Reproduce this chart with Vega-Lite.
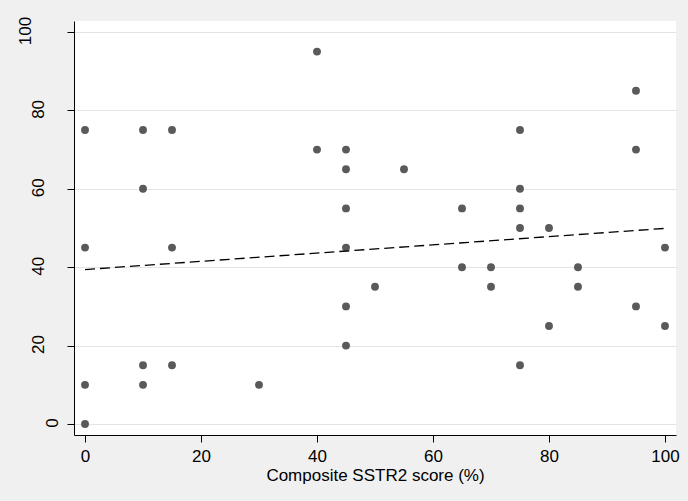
{
  "$schema": "https://vega.github.io/schema/vega-lite/v6.json",
  "width": 602,
  "height": 414,
  "autosize": "none",
  "padding": {"left": 74, "top": 21, "right": 12, "bottom": 66},
  "background": "#F0F0F0",
  "view": {"fill": "white", "stroke": null},
  "config": {
    "font": "Liberation Sans"
  },
  "datasets": {
    "points": [
      {"score": 0, "value": 75}, {"score": 0, "value": 45}, {"score": 0, "value": 10}, {"score": 0, "value": 0},
      {"score": 10, "value": 75}, {"score": 10, "value": 60}, {"score": 10, "value": 15}, {"score": 10, "value": 10},
      {"score": 15, "value": 75}, {"score": 15, "value": 45}, {"score": 15, "value": 15},
      {"score": 30, "value": 10},
      {"score": 40, "value": 95}, {"score": 40, "value": 70},
      {"score": 45, "value": 70}, {"score": 45, "value": 65}, {"score": 45, "value": 55}, {"score": 45, "value": 45}, {"score": 45, "value": 30}, {"score": 45, "value": 20},
      {"score": 50, "value": 35},
      {"score": 55, "value": 65},
      {"score": 65, "value": 55}, {"score": 65, "value": 40},
      {"score": 70, "value": 40}, {"score": 70, "value": 35},
      {"score": 75, "value": 75}, {"score": 75, "value": 60}, {"score": 75, "value": 55}, {"score": 75, "value": 50}, {"score": 75, "value": 15},
      {"score": 80, "value": 50}, {"score": 80, "value": 25},
      {"score": 85, "value": 40}, {"score": 85, "value": 35},
      {"score": 95, "value": 85}, {"score": 95, "value": 70}, {"score": 95, "value": 30},
      {"score": 100, "value": 45}, {"score": 100, "value": 25}
    ],
    "fit": [
      {"score": 0, "fitted": 39.4},
      {"score": 100, "fitted": 49.9}
    ],
    "ylabels": [
      {"tick": 0, "label": "0", "group": "short"},
      {"tick": 20, "label": "20", "group": "mid"},
      {"tick": 40, "label": "40", "group": "mid"},
      {"tick": 60, "label": "60", "group": "mid"},
      {"tick": 80, "label": "80", "group": "mid"},
      {"tick": 100, "label": "100", "group": "long"}
    ]
  },
  "layer": [
    {
      "data": {"name": "points"},
      "mark": {"type": "point", "filled": true, "shape": "circle", "size": 62, "color": "#5A5A5A", "opacity": 1},
      "encoding": {
        "x": {
          "field": "score", "type": "quantitative",
          "scale": {"domain": [-1.9, 101.9], "nice": false, "zero": false},
          "axis": {
            "title": "Composite SSTR2 score (%)",
            "values": [0, 20, 40, 60, 80, 100],
            "grid": false,
            "domainColor": "black", "domainWidth": 1, "tickColor": "black", "tickSize": 7, "tickWidth": 1,
            "labelFont": "Liberation Sans", "labelFontSize": 17, "labelColor": "black", "labelPadding": 6,
            "titleFont": "Liberation Sans", "titleFontSize": 17, "titleFontWeight": "normal", "titleColor": "black", "titlePadding": 3
          }
        },
        "y": {
          "field": "value", "type": "quantitative",
          "scale": {"domain": [-2.8, 102.8], "nice": false, "zero": false},
          "axis": {
            "title": null, "values": [0, 20, 40, 60, 80, 100], "grid": true, "gridColor": "#E4E4E4",
            "domainColor": "black", "domainWidth": 1, "tickColor": "black", "tickSize": 7, "tickWidth": 1,
            "labels": false
          }
        }
      }
    },
    {
      "data": {"name": "fit"},
      "mark": {"type": "line", "color": "black", "strokeWidth": 1.3, "strokeDash": [10, 5]},
      "encoding": {
        "x": {"field": "score", "type": "quantitative"},
        "y": {"field": "fitted", "type": "quantitative"}
      }
    },
    {
      "data": {"name": "ylabels"},
      "transform": [{"filter": "datum.group == 'short'"}],
      "mark": {"type": "text", "font": "Liberation Sans", "fontSize": 17, "color": "black", "angle": 270, "align": "center", "baseline": "bottom", "dx": 1, "dy": -12},
      "encoding": {
        "x": {"datum": -1.9, "type": "quantitative"},
        "y": {"field": "tick", "type": "quantitative"},
        "text": {"field": "label", "type": "nominal"}
      }
    },
    {
      "data": {"name": "ylabels"},
      "transform": [{"filter": "datum.group == 'mid'"}],
      "mark": {"type": "text", "font": "Liberation Sans", "fontSize": 17, "color": "black", "angle": 270, "align": "center", "baseline": "bottom", "dx": 1, "dy": -26},
      "encoding": {
        "x": {"datum": -1.9, "type": "quantitative"},
        "y": {"field": "tick", "type": "quantitative"},
        "text": {"field": "label", "type": "nominal"}
      }
    },
    {
      "data": {"name": "ylabels"},
      "transform": [{"filter": "datum.group == 'long'"}],
      "mark": {"type": "text", "font": "Liberation Sans", "fontSize": 17, "color": "black", "angle": 270, "align": "center", "baseline": "bottom", "dx": 1, "dy": -39},
      "encoding": {
        "x": {"datum": -1.9, "type": "quantitative"},
        "y": {"field": "tick", "type": "quantitative"},
        "text": {"field": "label", "type": "nominal"}
      }
    }
  ]
}
